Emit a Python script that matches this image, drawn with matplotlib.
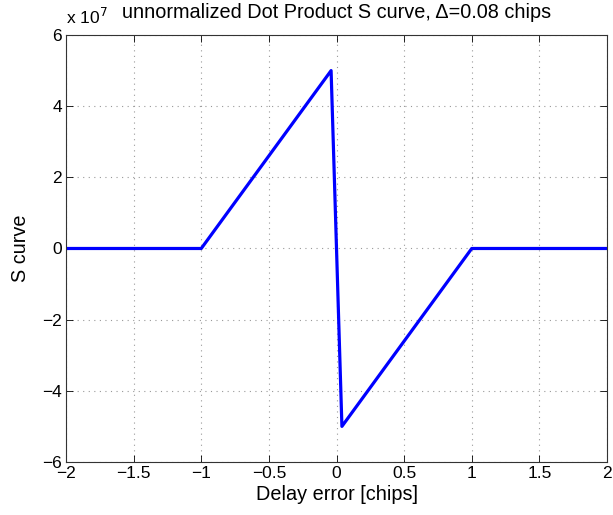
import numpy as np
import matplotlib.pyplot as plt
from matplotlib.ticker import FuncFormatter

# S curve corners: delay error [chips] vs unnormalized dot product
delay = [-2, -1, -0.04, 0.04, 1, 2]
s_curve = [0, 0, 5.0e7, -5.0e7, 0, 0]

xticks = [-2, -1.5, -1, -0.5, 0, 0.5, 1, 1.5, 2]
yticks = [-6e7, -4e7, -2e7, 0, 2e7, 4e7, 6e7]

plt.rcParams['font.family'] = ['Liberation Sans', 'DejaVu Sans']
plt.rcParams['font.size'] = 12.5

fig = plt.figure(figsize=(6.13, 5.15), dpi=100)
ax = fig.add_axes([0.1077, 0.103, 0.8825, 0.829])

ax.plot(delay, s_curve, color='#0000ff', lw=2.3)

ax.set_xlim(-2, 2)
ax.set_ylim(-6e7, 6e7)
ax.set_xticks(xticks)
ax.set_yticks(yticks)
ax.xaxis.set_major_formatter(FuncFormatter(lambda v, p: ('%g' % v).replace('-', '\u2212')))
ax.yaxis.set_major_formatter(FuncFormatter(lambda v, p: ('%g' % (v / 1e7)).replace('-', '\u2212')))
ax.tick_params(direction='in', length=5, width=0.6, top=True, right=True, pad=3)
for sp in ax.spines.values():
    sp.set_linewidth(0.8)
    sp.set_color('#333333')

ax.grid(True, linestyle=(0, (1, 4)), color='#999999', lw=0.8)

ax.set_xlabel('Delay error [chips]', fontsize=14.3, labelpad=3)
ax.set_ylabel('S curve', fontsize=14.3, labelpad=9)

ax.text(0.0, 1.018, r'x 10$^7$', transform=ax.transAxes, ha='left', va='bottom')
ax.text(0.5, 1.04, 'unnormalized Dot Product S curve, \u0394=0.08 chips',
        transform=ax.transAxes, ha='center', va='baseline', fontsize=14.3)

fig.savefig('out.png', dpi=100)
